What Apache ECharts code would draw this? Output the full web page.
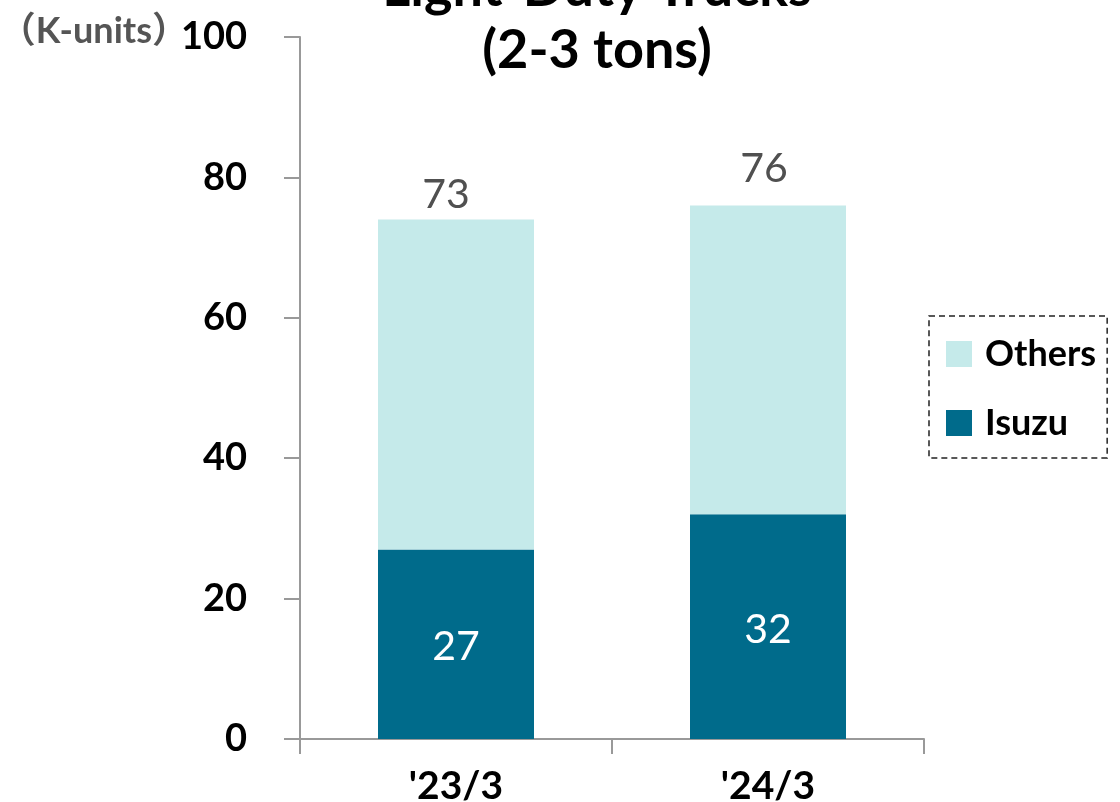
<!DOCTYPE html>
<html><head><meta charset="utf-8">
<script src="https://cdn.jsdelivr.net/npm/echarts@6/dist/echarts.min.js"></script>
<style>html,body{margin:0;padding:0;background:#fff}#c{width:1120px;height:802px}</style>
</head><body><div id="c"></div>
<script>
const categories = ["'23/3", "'24/3"];
const isuzu = [27, 32];
const others = [47, 44];
const totals = [73, 76];
const yTicks = [0, 20, 40, 60, 80, 100];
const totalLabelGaps = [4, 16];
const totalLabelShiftX = [-10, -4];

const FONT = 'Lato';
const chart = echarts.init(document.getElementById('c'), null, {renderer: 'canvas'});
chart.setOption({
  animation: false,
  title: {
    text: 'Light-Duty Trucks\n(2-3 tons)',
    left: 592, top: -47, textAlign: 'center',
    textStyle: {fontFamily: FONT, fontSize: 54, fontWeight: 'bold', color: '#000', lineHeight: 62}
  },
  legend: {
    data: ['Others', 'Isuzu'],
    orient: 'vertical',
    left: 929, top: 316,
    itemWidth: 26, itemHeight: 26, itemGap: 33,
    padding: [20, 11, 17, 17],
    borderColor: '#222', borderWidth: 1.5, borderType: [6, 4],
    icon: 'rect',
    textStyle: {fontFamily: FONT, fontSize: 36, fontWeight: 'bold', color: '#000', lineHeight: 30, padding: [0, 0, 0, 8]}
  },
  grid: {left: 300, right: 196, top: 37, bottom: 63, containLabel: false, outerBoundsMode: 'none'},
  xAxis: {
    type: 'category', data: categories,
    axisLine: {lineStyle: {color: '#999', width: 2}},
    axisTick: {show: true, alignWithLabel: false, length: 15, lineStyle: {color: '#999', width: 2}},
    axisLabel: {fontFamily: FONT, fontSize: 39, fontWeight: 'bold', color: '#000', margin: 28}
  },
  yAxis: {
    type: 'value', min: yTicks[0], max: yTicks[yTicks.length - 1], interval: 20,
    name: '（K-units）', nameLocation: 'end', nameGap: 6, nameMoveOverlap: false,
    nameTextStyle: {fontFamily: "Lato, 'Noto Sans CJK JP'", fontSize: 36, fontWeight: 'bold', color: '#555', align: 'right', verticalAlign: 'middle', padding: [0, 112, 0, 0]},
    axisLine: {show: true, lineStyle: {color: '#999', width: 2}},
    axisTick: {show: true, length: 16, lineStyle: {color: '#999', width: 2}},
    splitLine: {show: false},
    axisLabel: {fontFamily: FONT, fontSize: 38, fontWeight: 'bold', color: '#000', margin: 53}
  },
  series: [
    {
      name: 'Isuzu', type: 'bar', stack: 's', barWidth: '50%',
      itemStyle: {color: '#006B8B'},
      label: {show: true, position: 'inside', fontFamily: FONT, fontSize: 41, color: '#fff', offset: [0, 3]},
      data: isuzu
    },
    {
      name: 'Others', type: 'bar', stack: 's', barWidth: '50%',
      itemStyle: {color: '#C5EAEA'},
      data: others.map((v, i) => ({
        value: v,
        label: {show: true, position: 'top', distance: totalLabelGaps[i], offset: [totalLabelShiftX[i], 0],
          formatter: String(totals[i]), fontFamily: FONT, fontSize: 41, color: '#505050'}
      }))
    }
  ]
});
</script></body></html>
